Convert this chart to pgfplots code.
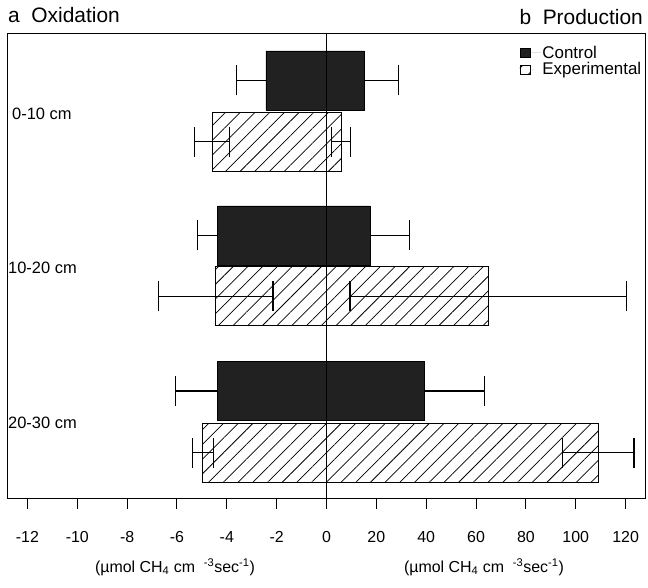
\documentclass[border=0pt]{standalone}
\usepackage{pgfplots}
\pgfplotsset{compat=1.18}
\usepackage{pgfplotstable}
\usepackage{fontspec}
\setmainfont{Liberation Sans}
\usetikzlibrary{patterns.meta}

% y = bar centre (pixel row), ox = oxidation, prod = production
\pgfplotstableread{
y ox oxerr prod proderr
80.5 -2.43 1.18 15.2 13.7
235.5 -4.37 0.82 17.5 15.8
391.0 -4.39 1.67 39.4 24.1
}\control
\pgfplotstableread{
y ox oxerr prod proderr
141.7 -4.59 0.70 5.8 3.8
296.3 -4.44 2.29 64.9 55.5
452.5 -4.97 0.42 109.0 14.4
}\experimental

\begin{document}
\begin{tikzpicture}[x=1bp,y=1bp]
\useasboundingbox (-7,-90) rectangle (641,498);
\begin{axis}[
  at={(0,0)}, anchor=south west,
  scale only axis, width=638bp, height=464bp,
  xmin=-12.82, xmax=12.78,
  ymin=34, ymax=498, y dir=reverse,
  axis line style={line width=1bp},
  ytick=\empty,
  xtick={-12,-10,...,12},
  xticklabels={-12,-10,-8,-6,-4,-2,0,20,40,60,80,100,120},
  xtick pos=bottom, tick align=outside, major tick length=11bp,
  tick style={line width=1bp, black},
  xticklabel style={font=\fontsize{16}{18}\selectfont, yshift=-19bp},
  clip=false,
  legend style={at={(axis description cs:0.803,0.978)}, anchor=north west,
    draw=none, fill=none, font=\fontsize{17}{19}\selectfont,
    row sep=0pt, inner sep=0pt, nodes={inner sep=1.5bp}},
  legend cell align=left,
  legend image code/.code={\draw[#1] (0bp,-4.5bp) rectangle (10bp,4.5bp);
    \path[draw=none] (0bp,0bp) -- (21bp,0bp);},
  ctrl/.style={xbar, bar width=59, bar shift=0pt, fill=black!87, draw=black, line width=0.8bp,
    error bars/.cd, x dir=#1, x explicit, error mark=|,
    error bar style={line width=1.2bp, black},
    error mark options={mark size=15bp, line width=1.2bp, black}, /pgfplots/.cd},
  expt/.style={xbar, bar width=59, bar shift=0pt, fill=none, draw=black, line width=0.8bp,
    pattern={Lines[angle=45,distance=10.4bp,line width=0.75bp]}, pattern color=black,
    error bars/.cd, x dir=both, x explicit, error mark=|,
    error bar style={line width=1.2bp, black},
    error mark options={mark size=15bp, line width=1.2bp, black}, /pgfplots/.cd},
]
\addplot[ctrl=minus] table[x=ox, y=y, x error=oxerr]{\control};
\addplot[forget plot, ctrl=plus] table[x expr=\thisrow{prod}/10, y=y, x error expr=\thisrow{proderr}/10]{\control};
\addplot[expt] table[x=ox, y=y, x error=oxerr]{\experimental};
\addplot[forget plot, expt] table[x expr=\thisrow{prod}/10, y=y, x error expr=\thisrow{proderr}/10]{\experimental};
\legend{Control, Experimental}
\draw[line width=1bp] (axis cs:0,34) -- (axis cs:0,498);
\end{axis}
\node[anchor=west, inner sep=0pt, font=\fontsize{16.5}{18}\selectfont] at (5,384) {0-10 cm};
\node[anchor=west, inner sep=0pt, font=\fontsize{16.5}{18}\selectfont] at (1,230) {10-20 cm};
\node[anchor=west, inner sep=0pt, font=\fontsize{16.5}{18}\selectfont] at (1,75) {20-30 cm};
\node[anchor=west, inner sep=0pt, font=\fontsize{21}{23}\selectfont] at (1,483) {a\ \ Oxidation};
\node[anchor=east, inner sep=0pt, font=\fontsize{21}{23}\selectfont] at (636,481) {b\ \ Production};
\node[inner sep=0pt, font=\fontsize{16}{18}\selectfont] at (168,-69) {(µmol CH\textsubscript{4} cm\ \ \textsuperscript{-3}sec\textsuperscript{-1})};
\node[inner sep=0pt, font=\fontsize{16}{18}\selectfont] at (477,-69) {(µmol CH\textsubscript{4} cm\ \ \textsuperscript{-3}sec\textsuperscript{-1})};
\end{tikzpicture}
\end{document}
